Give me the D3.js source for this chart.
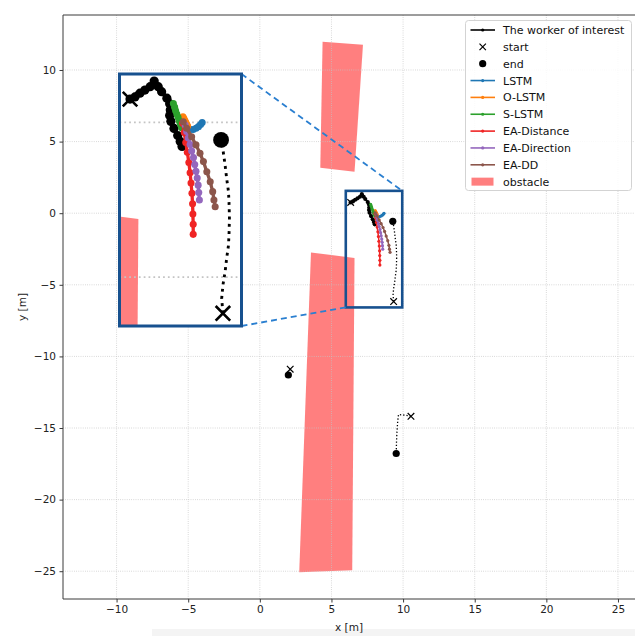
<!DOCTYPE html>
<html>
<head>
<meta charset="utf-8">
<script src="https://cdn.jsdelivr.net/npm/d3@7"></script>
<style>
body { margin: 0; background: #fff; }
text { font-family: "DejaVu Sans", sans-serif; }
</style>
</head>
<body>
<div id="viz"></div>
<script>
var w = 635, h = 636;

// ticks
var xTicks = [-10, -5, 0, 5, 10, 15, 20, 25];
var yTicks = [10, 5, 0, -5, -10, -15, -20, -25];

// obstacles (corners in metres)
var obstacles = [
  [[4.38, 11.97], [7.20, 11.76], [6.61, 2.89], [4.22, 3.17]],
  [[3.57, -2.74], [6.61, -3.12], [6.45, -24.93], [2.75, -25.07]]
];

// worker of interest
var worker = [[6.34, 0.75], [6.50, 0.82], [6.66, 0.94], [6.82, 1.04], [6.99, 1.15], [7.12, 1.33],
  [7.25, 1.15], [7.36, 0.99], [7.53, 0.78], [7.62, 0.60], [7.64, 0.40], [7.62, 0.22],
  [7.66, 0.03], [7.76, -0.20], [7.88, -0.43], [7.96, -0.62], [8.02, -0.78]];

// predictions
var lstm = [[8.08, -0.16], [8.18, -0.20], [8.28, -0.23], [8.38, -0.23], [8.47, -0.19], [8.55, -0.14], [8.62, -0.07], [8.67, -0.01]];
var oLstm = [[8.05, 0.18], [8.08, 0.12], [8.11, 0.06], [8.14, 0.0], [8.17, -0.06], [8.20, -0.12]];
var sLstm = [[7.74, 0.61], [7.78, 0.49], [7.81, 0.38], [7.85, 0.27], [7.89, 0.16], [7.93, 0.04], [7.97, -0.07], [8.01, -0.18]];
var eaDistance = [[8.04, -0.03], [8.09, -0.33], [8.14, -0.65], [8.19, -0.97], [8.24, -1.30], [8.28, -1.63],
  [8.31, -1.96], [8.34, -2.29], [8.36, -2.63], [8.37, -2.96], [8.38, -3.29], [8.38, -3.62]];
var eaDirection = [[8.12, -0.09], [8.17, -0.30], [8.22, -0.51], [8.28, -0.72], [8.33, -0.93], [8.39, -1.14],
  [8.43, -1.36], [8.47, -1.58], [8.51, -1.80], [8.54, -2.03], [8.56, -2.27], [8.58, -2.51]];
var eaDD = [[8.06, 0.02], [8.17, -0.19], [8.33, -0.47], [8.47, -0.73], [8.60, -1.00], [8.71, -1.27],
  [8.82, -1.60], [8.93, -1.92], [9.01, -2.24], [9.05, -2.51], [9.09, -2.73]];

// other workers (start -> end)
var neighbour1 = [[9.34, -6.17], [9.30, -5.69], [9.34, -5.26], [9.41, -4.83], [9.46, -4.40], [9.52, -3.97], [9.54, -3.54],
  [9.55, -3.10], [9.54, -2.67], [9.52, -2.24], [9.46, -1.81], [9.41, -1.38], [9.35, -0.95], [9.28, -0.57]];
var neighbour2 = [[2.12, -10.89], [2.05, -11.1], [1.99, -11.3]];
var neighbour3 = [[10.55, -14.18], [10.1, -14.1], [9.68, -14.06], [9.62, -14.6], [9.57, -15.27], [9.54, -16.0], [9.52, -16.78]];
var neighbours = [neighbour1, neighbour2, neighbour3];

var predNames = ['LSTM', 'O-LSTM', 'S-LSTM', 'EA-Distance', 'EA-Direction', 'EA-DD'];
var predColors = ['#1f77b4', '#ff7f0e', '#2ca02c', '#f02424', '#9467bd', '#8c564b'];
var predData = [lstm, oLstm, sLstm, eaDistance, eaDirection, eaDD];

// zoomed window
var zoomX = [6.0, 9.94], zoomY = [-6.58, 1.56];

var svg = d3.select('#viz').append('svg').attr('width', w).attr('height', h);

svg.append('rect').attr('x', 152).attr('y', 629).attr('width', 483).attr('height', 7).attr('fill', '#f4f4f4');

var x = d3.scaleLinear().domain([-13.74, 26.3]).range([63, 636.6]);
var y = d3.scaleLinear().domain([-26.94, 13.84]).range([599, 15]);

var xi = d3.scaleLinear().domain(zoomX).range([119.5, 241.5]);
var yi = d3.scaleLinear().domain(zoomY).range([326, 74]);

var defs = svg.append('defs');
defs.append('clipPath').attr('id', 'clipMain').append('rect')
  .attr('x', 63).attr('y', 15).attr('width', 636.6 - 63).attr('height', 599 - 15);
defs.append('clipPath').attr('id', 'clipInset').append('rect')
  .attr('x', 119.5).attr('y', 74).attr('width', 122).attr('height', 252);

function cross(s) {
  return 'M' + (-s) + ',' + (-s) + 'L' + s + ',' + s + 'M' + (-s) + ',' + s + 'L' + s + ',' + (-s);
}

function drawScene(g, sx, sy, k) {
  var line = d3.line().x(d => sx(d[0])).y(d => sy(d[1]));

  g.selectAll('path.obs').data(obstacles).enter().append('path')
    .attr('class', 'obs')
    .attr('d', d => line(d) + 'Z')
    .attr('fill', '#ff0000').attr('fill-opacity', 0.5);

  // grid
  var [x0, x1] = sx.range(), [y1, y0] = sy.range();
  g.selectAll('line.gx').data(xTicks).enter().append('line')
    .attr('x1', d => sx(d)).attr('x2', d => sx(d)).attr('y1', y0).attr('y2', y1)
    .attr('stroke', '#c4c4c4').attr('stroke-width', 0.8 * k).attr('stroke-dasharray', (0.8 * k) + ',' + (1.4 * k));
  g.selectAll('line.gy').data(yTicks).enter().append('line')
    .attr('y1', d => sy(d)).attr('y2', d => sy(d)).attr('x1', x0).attr('x2', x1)
    .attr('stroke', '#c4c4c4').attr('stroke-width', 0.8 * k).attr('stroke-dasharray', (0.8 * k) + ',' + (1.4 * k));

  // other workers
  neighbours.forEach(function (p) {
    g.append('path').attr('d', line(p)).attr('fill', 'none').attr('stroke', '#000')
      .attr('stroke-width', 1.3 * k).attr('stroke-dasharray', (1.3 * k) + ',' + (2 * k));
    g.append('path').attr('d', cross(3.3 * k))
      .attr('transform', 'translate(' + sx(p[0][0]) + ',' + sy(p[0][1]) + ')')
      .attr('stroke', '#000').attr('stroke-width', 1.2 * k).attr('fill', 'none');
    g.append('circle').attr('cx', sx(p[p.length - 1][0])).attr('cy', sy(p[p.length - 1][1]))
      .attr('r', 3.6 * k).attr('fill', '#000');
  });

  // worker of interest
  g.append('path').attr('d', line(worker)).attr('fill', 'none').attr('stroke', '#000').attr('stroke-width', 1.8 * k);
  g.selectAll('circle.wk').data(worker).enter().append('circle').attr('class', 'wk')
    .attr('cx', d => sx(d[0])).attr('cy', d => sy(d[1])).attr('r', 2.1 * k).attr('fill', '#000');
  g.append('path').attr('d', cross(3.3 * k))
    .attr('transform', 'translate(' + sx(worker[0][0]) + ',' + sy(worker[0][1]) + ')')
    .attr('stroke', '#000').attr('stroke-width', 1.2 * k).attr('fill', 'none');

  // predictions
  predData.forEach(function (p, i) {
    g.append('path').attr('d', line(p)).attr('fill', 'none').attr('stroke', predColors[i]).attr('stroke-width', 1.5 * k);
    g.selectAll('circle.p' + i).data(p).enter().append('circle').attr('class', 'p' + i)
      .attr('cx', d => sx(d[0])).attr('cy', d => sy(d[1])).attr('r', 1.6 * k).attr('fill', predColors[i]);
  });
}

var main = svg.append('g').attr('clip-path', 'url(#clipMain)');
drawScene(main, x, y, 1);

// zoom box + connectors
var boxCol = '#17518f', dashCol = '#2a7fd0';
svg.append('rect')
  .attr('x', x(zoomX[0])).attr('y', y(zoomY[1]))
  .attr('width', x(zoomX[1]) - x(zoomX[0])).attr('height', y(zoomY[0]) - y(zoomY[1]))
  .attr('fill', 'none').attr('stroke', boxCol).attr('stroke-width', 2.6);
svg.append('line')
  .attr('x1', xi(zoomX[1])).attr('y1', yi(zoomY[1])).attr('x2', x(zoomX[1])).attr('y2', y(zoomY[1]))
  .attr('stroke', dashCol).attr('stroke-width', 1.8).attr('stroke-dasharray', '6,4');
svg.append('line')
  .attr('x1', xi(zoomX[1])).attr('y1', yi(zoomY[0])).attr('x2', x(zoomX[0])).attr('y2', y(zoomY[0]))
  .attr('stroke', dashCol).attr('stroke-width', 1.8).attr('stroke-dasharray', '6,4');

// inset
svg.append('rect').attr('x', 119.5).attr('y', 74).attr('width', 122).attr('height', 252).attr('fill', '#fff');
var inset = svg.append('g').attr('clip-path', 'url(#clipInset)');
drawScene(inset, xi, yi, 2.2);
svg.append('rect').attr('x', 119.5).attr('y', 74).attr('width', 122).attr('height', 252)
  .attr('fill', 'none').attr('stroke', boxCol).attr('stroke-width', 3);

// axes
var spine = '#3a3a3a';
svg.append('path').attr('d', 'M636.6,15H63V599H636.6').attr('fill', 'none').attr('stroke', spine).attr('stroke-width', 1);

var xAxis = d3.axisBottom(x).tickValues(xTicks).tickSize(3.5).tickPadding(3.5).tickFormat(d3.format('d'));
var yAxis = d3.axisLeft(y).tickValues(yTicks).tickSize(3.5).tickPadding(3.5).tickFormat(d3.format('d'));

var gx = svg.append('g').attr('transform', 'translate(0,599)').call(xAxis);
var gy = svg.append('g').attr('transform', 'translate(63,0)').call(yAxis);
[gx, gy].forEach(function (g) {
  g.select('.domain').remove();
  g.selectAll('line').attr('stroke', spine);
  g.selectAll('text').attr('font-size', 10.5).attr('fill', '#222')
    .attr('font-family', '"DejaVu Sans", sans-serif')
    .text(function (d) { return d < 0 ? '\u2212' + Math.abs(d) : d; });
});

svg.append('text').attr('x', 349).attr('y', 631).attr('text-anchor', 'middle')
  .attr('font-size', 10.5).attr('fill', '#222').text('x [m]');
svg.append('text').attr('transform', 'translate(26,307) rotate(-90)').attr('text-anchor', 'middle')
  .attr('font-size', 10.5).attr('fill', '#222').text('y [m]');

// legend
var legend = svg.append('g');
legend.append('rect').attr('x', 465.5).attr('y', 20.5).attr('width', 166).attr('height', 170).attr('rx', 3)
  .attr('fill', '#fff').attr('fill-opacity', 0.85).attr('stroke', '#d3d3d3').attr('stroke-width', 1);

var legendItems = [{ name: 'The worker of interest', type: 'line', color: '#000' },
  { name: 'start', type: 'cross' }, { name: 'end', type: 'dot' }]
  .concat(predNames.map((n, i) => ({ name: n, type: 'line', color: predColors[i] })))
  .concat([{ name: 'obstacle', type: 'patch' }]);

var rowH = 16.85;
legendItems.forEach(function (it, i) {
  var cy = 30 + i * rowH;
  var row = legend.append('g');
  if (it.type == 'line') {
    row.append('line').attr('x1', 470.5).attr('x2', 495).attr('y1', cy).attr('y2', cy)
      .attr('stroke', it.color).attr('stroke-width', 1.6);
    row.append('circle').attr('cx', 482.7).attr('cy', cy).attr('r', 1.6).attr('fill', it.color);
  } else if (it.type == 'cross') {
    row.append('path').attr('d', cross(3.2)).attr('transform', 'translate(482.7,' + cy + ')')
      .attr('stroke', '#000').attr('stroke-width', 1.2);
  } else if (it.type == 'dot') {
    row.append('circle').attr('cx', 482.7).attr('cy', cy).attr('r', 3.6).attr('fill', '#000');
  } else {
    row.append('rect').attr('x', 471.5).attr('y', cy - 4).attr('width', 22).attr('height', 8)
      .attr('fill', '#ff0000').attr('fill-opacity', 0.5);
  }
  row.append('text').attr('x', 503).attr('y', cy).attr('dy', '0.36em')
    .attr('font-size', 11).attr('fill', '#111').text(it.name);
});
</script>
</body>
</html>
